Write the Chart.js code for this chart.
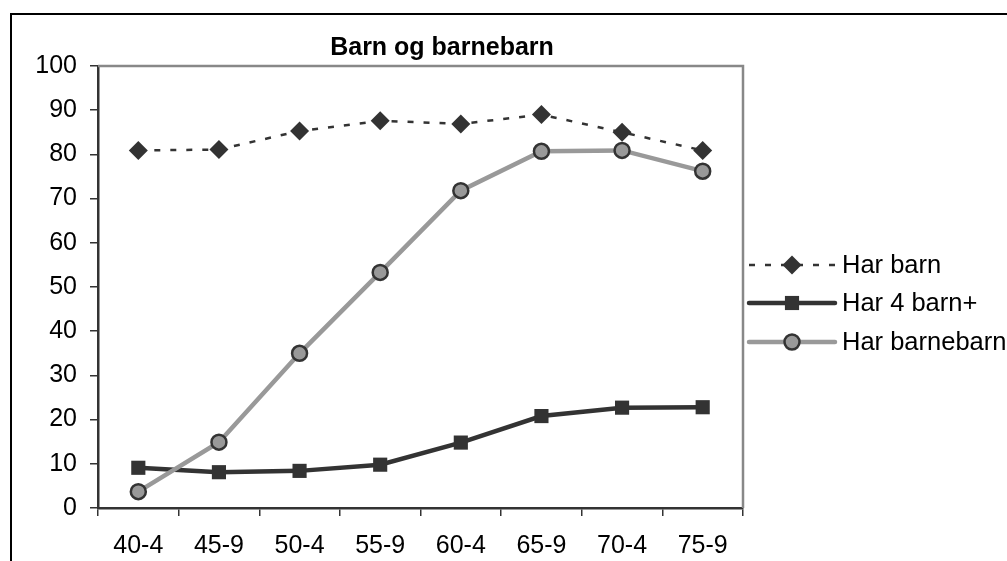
<!DOCTYPE html>
<html>
<head>
<meta charset="utf-8">
<title>Barn og barnebarn</title>
<script src="https://cdn.jsdelivr.net/npm/chart.js@4/dist/chart.umd.min.js"></script>
<style>
  html, body { margin: 0; padding: 0; background: #fff; overflow: hidden; }
  #wrap { position: relative; width: 1007px; height: 561px; }
  #frame {
    position: absolute; left: 10px; top: 13px; width: 1100px; height: 700px;
    border-left: 2px solid #000; border-top: 2px solid #000;
  }
  #chart { position: absolute; left: 0; top: 0; }
</style>
</head>
<body>
<div id="wrap">
  <div id="frame"></div>
  <canvas id="chart" width="1007" height="561"></canvas>
</div>
<script>
// aldersgrupper og andeler i prosent
const aldersgrupper = ['40-4', '45-9', '50-4', '55-9', '60-4', '65-9', '70-4', '75-9'];
const harBarn = [80.9, 81.1, 85.3, 87.6, 86.9, 89.0, 85.0, 80.9];
const harFireBarn = [9.1, 8.1, 8.4, 9.8, 14.8, 20.8, 22.7, 22.8];
const harBarnebarn = [3.7, 14.9, 35.0, 53.3, 71.8, 80.7, 80.9, 76.2];
const yTicks = [0, 10, 20, 30, 40, 50, 60, 70, 80, 90, 100];

const tittel = 'Barn og barnebarn';
const FONT = '"Liberation Sans", Arial, sans-serif';
const MORK = '#333333';
const GRA = '#999999';

// tegner et punktsymbol (brukes i forklaringen)
function tegnSymbol(ctx, ds, x, y) {
    const r = ds.pointRadius;
    ctx.save();
    ctx.setLineDash([]);
    ctx.fillStyle = ds.pointBackgroundColor;
    ctx.strokeStyle = ds.pointBorderColor;
    ctx.lineWidth = ds.pointBorderWidth;
    ctx.beginPath();
    if (ds.pointStyle === 'rectRot') {
        ctx.moveTo(x - r, y); ctx.lineTo(x, y - r); ctx.lineTo(x + r, y); ctx.lineTo(x, y + r);
        ctx.closePath();
    } else if (ds.pointStyle === 'rect') {
        const s = Math.SQRT1_2 * r;
        ctx.rect(x - s, y - s, 2 * s, 2 * s);
    } else {
        ctx.arc(x, y, r, 0, Math.PI * 2);
    }
    ctx.fill();
    if (ds.pointBorderWidth > 0) ctx.stroke();
    ctx.restore();
}

// tittel, ramme rundt plottet og forklaring til høyre
const ekstraTegning = {
    id: 'ekstraTegning',
    beforeDatasetsDraw(chart) {
        const { ctx, chartArea: a } = chart;
        ctx.save();
        ctx.strokeStyle = '#888888';
        ctx.lineWidth = 2.5;
        ctx.beginPath();
        ctx.moveTo(a.left, a.top);
        ctx.lineTo(a.right, a.top);
        ctx.lineTo(a.right, a.bottom);
        ctx.stroke();
        ctx.restore();
    },
    afterDraw(chart) {
        const { ctx } = chart;
        ctx.save();
        ctx.fillStyle = '#000';
        ctx.font = 'bold 25px ' + FONT;
        ctx.textAlign = 'center';
        ctx.textBaseline = 'alphabetic';
        ctx.fillText(tittel, 442, 55);

        // forklaringsboks
        ctx.fillStyle = '#fff';
        ctx.fillRect(745, 245, 262, 117);
        const radY = [265, 303, 342];
        chart.data.datasets.forEach((ds, i) => {
            const y = radY[i];
            ctx.save();
            ctx.strokeStyle = ds.borderColor;
            ctx.lineWidth = ds.borderWidth;
            ctx.setLineDash(ds.borderDash || []);
            ctx.lineCap = ds.borderDash ? 'butt' : 'round';
            ctx.beginPath();
            ctx.moveTo(749, y);
            ctx.lineTo(835, y);
            ctx.stroke();
            ctx.restore();
            tegnSymbol(ctx, ds, 792, y);
            ctx.fillStyle = '#000';
            ctx.font = '25.5px ' + FONT;
            ctx.textAlign = 'left';
            ctx.textBaseline = 'middle';
            ctx.fillText(ds.label, 842, y + 1);
        });
        ctx.restore();
    }
};

const ctx = document.getElementById('chart').getContext('2d');
new Chart(ctx, {
    type: 'line',
    data: {
        labels: aldersgrupper,
        datasets: [
            {
                label: 'Har barn',
                data: harBarn,
                borderColor: MORK,
                borderWidth: 2.5,
                borderDash: [6, 10],
                pointStyle: 'rectRot',
                pointRadius: 9.5,
                pointBackgroundColor: MORK,
                pointBorderColor: MORK,
                pointBorderWidth: 0,
                order: 3
            },
            {
                label: 'Har 4 barn+',
                data: harFireBarn,
                borderColor: MORK,
                borderWidth: 4.5,
                pointStyle: 'rect',
                pointRadius: 10,
                pointBackgroundColor: MORK,
                pointBorderColor: MORK,
                pointBorderWidth: 0,
                order: 2
            },
            {
                label: 'Har barnebarn',
                data: harBarnebarn,
                borderColor: GRA,
                borderWidth: 4.5,
                pointStyle: 'circle',
                pointRadius: 7.5,
                pointBackgroundColor: GRA,
                pointBorderColor: MORK,
                pointBorderWidth: 2.5,
                order: 1
            }
        ]
    },
    options: {
        responsive: false,
        animation: false,
        layout: { padding: { top: 66, right: 264, left: 0, bottom: 0 } },
        elements: { line: { tension: 0 } },
        plugins: {
            legend: { display: false },
            title: { display: false },
            tooltip: { enabled: false }
        },
        scales: {
            x: {
                offset: true,
                afterFit(scale) { scale.height = 53; },
                grid: {
                    offset: true,
                    drawOnChartArea: false,
                    drawTicks: true,
                    tickLength: 8,
                    color: MORK,
                    lineWidth: 1.5
                },
                border: { color: MORK, width: 2.5 },
                ticks: {
                    color: '#000',
                    padding: 15,
                    maxRotation: 0,
                    font: { family: FONT, size: 25 }
                }
            },
            y: {
                min: 0,
                max: 100,
                afterFit(scale) { scale.width = 98; },
                afterBuildTicks(scale) { scale.ticks = yTicks.map(v => ({ value: v })); },
                grid: {
                    drawOnChartArea: false,
                    drawTicks: true,
                    tickLength: 8,
                    color: MORK,
                    lineWidth: 1.5
                },
                border: { color: MORK, width: 2.5 },
                ticks: {
                    color: '#000',
                    padding: 13,
                    font: { family: FONT, size: 25 }
                }
            }
        }
    },
    plugins: [ekstraTegning]
});
</script>
</body>
</html>
